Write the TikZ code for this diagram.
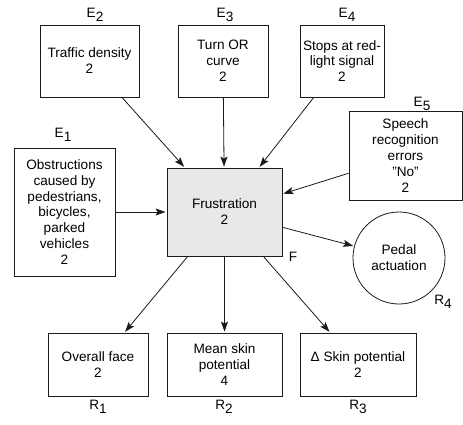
\documentclass[tikz,border=0pt]{standalone}
\usepackage{fontspec}
\setmainfont{Liberation Sans}
\usepackage{tikz}
\usetikzlibrary{arrows.meta}
\definecolor{my_black}{HTML}{1A1A1A}
\definecolor{my_lightgray}{HTML}{E8E8E8}
\newcommand{\sublbl}[2]{#1\raisebox{-0.55ex}{#2}}

\begin{document}
\begin{tikzpicture}[
    x=1pt, y=-1pt,
    every node/.style={font=\fontsize{13.6}{15.9}\selectfont, text=black},
    factor/.style={draw=my_black, line width=0.8pt, inner sep=0pt, align=center},
    connector/.style={draw=my_black, line width=0.8pt, shorten >=1pt,
        -{Stealth[length=10pt, width=7pt, inset=2pt]}}
]
\useasboundingbox (0,0) rectangle (463,424);

% --- Einflussgroessen (E) ---
\node[factor, minimum width=101pt, minimum height=128pt] (box_e1)
    at (64.5, 212) {Obstructions\\caused by\\pedestrians,\\bicycles,\\parked\\vehicles\\2};
\node[factor, minimum width=99pt, minimum height=72pt] (box_e2)
    at (89.5, 61) {Traffic density\\2};
\node[factor, minimum width=90pt, minimum height=72pt] (box_e3)
    at (223, 61) {Turn OR\\curve\\2};
\node[factor, minimum width=84pt, minimum height=72pt] (box_e4)
    at (342, 61) {Stops at red-\\light signal\\2};
\node[factor, minimum width=113pt, minimum height=89pt] (box_e5)
    at (405.5, 155.5) {Speech\\recognition\\errors\\"No"\\2};

% --- Zentrale Emotion (F) ---
\node[factor, fill=my_lightgray, minimum width=115pt, minimum height=88pt] (box_frust)
    at (224.5, 212) {Frustration\\2};

% --- Reaktionen (R) ---
\node[factor, minimum width=100pt, minimum height=63pt] (box_r1)
    at (98, 364.5) {Overall face\\2};
\node[factor, minimum width=115pt, minimum height=63pt] (box_r2)
    at (224.5, 364.5) {Mean skin\\potential\\4};
\node[factor, minimum width=116pt, minimum height=63pt] (box_r3)
    at (358, 364.5) {Δ Skin potential\\2};
\node[factor, circle, minimum size=92pt] (box_r4)
    at (399, 258) {Pedal\\actuation};

% --- Beschriftungen ---
\node (lbl_e1) at (63, 135) {\sublbl{E}{1}};
\node (lbl_e2) at (95, 15) {\sublbl{E}{2}};
\node (lbl_e3) at (225, 15) {\sublbl{E}{3}};
\node (lbl_e4) at (347, 15) {\sublbl{E}{4}};
\node (lbl_e5) at (422, 104) {\sublbl{E}{5}};
\node (lbl_f) at (293, 257) {F};
\node (lbl_r1) at (98, 407) {\sublbl{R}{1}};
\node (lbl_r2) at (224, 407) {\sublbl{R}{2}};
\node (lbl_r3) at (358, 407) {\sublbl{R}{3}};
\node (lbl_r4) at (443, 302) {\sublbl{R}{4}};

% --- Pfeile ---
\foreach \src in {box_e1, box_e2, box_e3, box_e4, box_e5} {
    \draw[connector] (\src) -- (box_frust);
}
\foreach \dst in {box_r1, box_r2, box_r3, box_r4} {
    \draw[connector] (box_frust) -- (\dst);
}

\end{tikzpicture}
\end{document}
